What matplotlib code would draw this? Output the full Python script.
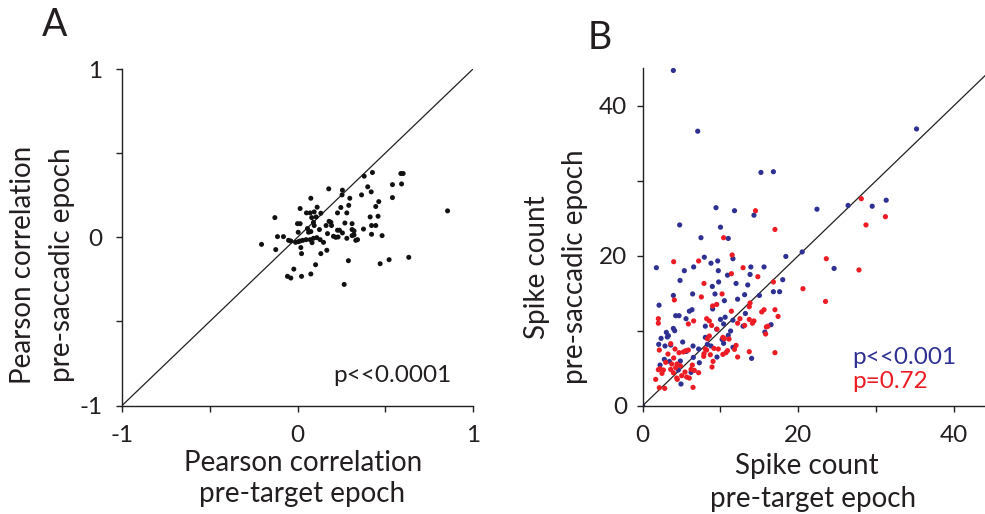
import matplotlib
matplotlib.use("Agg")
import matplotlib.pyplot as plt
import numpy as np

# ---------------- Panel A data: Pearson correlations ----------------
a_pre_target = [0.427, 0.38, 0.589, 0.602, 0.541, 0.593, 0.40, 0.42, 0.256, 0.178,
                0.365, 0.254, 0.076, 0.541, 0.298, 0.463, 0.292, 0.446, 0.247, 0.112,
                0.015, 0.855, 0.051, 0.072, 0.095, 0.133, 0.228, 0.281, -0.129, 0.081,
                0.106, 0.414, 0.459, 0.18, 0.19, 0.0, 0.015, 0.091, 0.27, 0.311,
                0.095, 0.163, 0.194, 0.422, 0.446, 0.057, 0.125, 0.228, 0.239, 0.311,
                0.322, 0.376, -0.114, -0.08, 0.004, 0.063, 0.076, 0.171, 0.256, 0.205,
                0.218, 0.231, 0.311, 0.322, 0.422, 0.482, -0.051, -0.038, -0.011, 0.004,
                0.015, 0.03, 0.049, 0.072, 0.091, 0.11, 0.129, 0.148, 0.281, 0.332,
                0.342, -0.205, 0.083, 0.019, -0.124, 0.167, 0.133, 0.023, 0.634, 0.522,
                0.471, 0.29, 0.103, -0.021, 0.076, 0.023, -0.057, -0.038, 0.266]
a_pre_saccadic = [0.385, 0.363, 0.379, 0.379, 0.313, 0.317, 0.30, 0.27, 0.28, 0.288,
                  0.252, 0.252, 0.232, 0.236, 0.232, 0.212, 0.19, 0.183, 0.177, 0.179,
                  0.171, 0.157, 0.145, 0.145, 0.151, 0.143, 0.145, 0.145, 0.117, 0.117,
                  0.121, 0.121, 0.125, 0.095, 0.089, 0.081, 0.081, 0.089, 0.085, 0.081,
                  0.07, 0.07, 0.07, 0.07, 0.07, 0.052, 0.046, 0.042, 0.042, 0.046,
                  0.038, 0.049, 0.004, 0.004, 0.03, 0.03, 0.034, 0.022, 0.026, 0.006,
                  0.0, 0.002, 0.01, 0.014, 0.018, 0.01, -0.018, -0.022, -0.03, -0.026,
                  -0.022, -0.018, -0.014, -0.014, -0.006, -0.002, -0.014, -0.03, -0.006, -0.018,
                  -0.014, -0.042, -0.032, -0.061, -0.073, -0.077, -0.097, -0.097, -0.119, -0.133,
                  -0.157, -0.139, -0.163, -0.189, -0.218, -0.232, -0.232, -0.242, -0.28]

# ---------------- Panel B data: spike counts ----------------
b_blue_target = [3.94, 7.07, 35.2, 15.2, 16.8, 31.3, 29.5, 26.4, 22.4, 9.42,
                 11.8, 14.3, 4.75, 10.0, 7.49, 11.0, 20.5, 18.4, 11.6, 7.92,
                 9.64, 8.78, 1.76, 6.55, 5.35, 13.9, 15.6, 24.6, 9.72, 10.9,
                 13.8, 18.0, 4.80, 9.76, 12.0, 8.95, 13.5, 16.8, 17.6, 6.42,
                 9.29, 13.1, 3.94, 15.0, 10.5, 12.2, 2.10, 13.2, 8.99, 4.24,
                 4.67, 6.00, 6.34, 5.57, 10.6, 10.0, 11.6, 12.9, 10.4, 16.5,
                 8.05, 9.51, 3.94, 4.11, 3.04, 11.3, 15.7, 3.30, 2.36, 3.17,
                 5.14, 2.06, 2.87, 3.60, 8.05, 11.0, 10.4, 8.31, 8.78, 10.2,
                 7.19, 6.47, 5.61, 11.6, 6.51, 4.84, 2.78, 3.43, 2.23, 7.28,
                 9.55, 14.0, 4.58, 6.21, 4.92, 0.0]
b_blue_saccadic = [44.7, 36.6, 36.9, 31.1, 31.2, 27.4, 26.6, 26.7, 26.2, 26.4,
                   26.0, 25.4, 24.1, 23.8, 22.4, 22.3, 20.5, 19.9, 19.6, 19.8,
                   19.3, 19.0, 18.4, 18.5, 18.0, 18.5, 18.5, 18.3, 18.0, 17.4,
                   17.5, 16.8, 16.7, 16.5, 16.3, 15.9, 16.1, 15.2, 15.2, 14.9,
                   14.9, 14.8, 14.7, 14.7, 14.0, 14.2, 13.4, 12.3, 12.9, 12.0,
                   12.0, 12.6, 12.8, 11.6, 11.8, 11.5, 11.4, 10.6, 10.9, 10.8,
                   10.6, 10.2, 10.3, 10.0, 9.78, 9.96, 9.82, 9.33, 8.98, 9.16,
                   8.49, 8.18, 7.96, 8.09, 9.11, 9.38, 8.31, 8.18, 7.96, 8.84,
                   7.56, 7.96, 7.24, 7.78, 6.44, 5.96, 6.18, 5.91, 5.42, 5.73,
                   6.49, 6.31, 4.76, 4.44, 2.89, 0.0]

b_red_target = [28.1, 14.5, 17.0, 28.7, 31.2, 10.4, 23.6, 27.8, 11.5, 3.98,
                7.19, 12.9, 14.8, 16.8, 11.4, 7.88, 20.6, 10.2, 7.54, 4.07,
                23.5, 9.51, 8.99, 13.8, 13.7, 15.6, 15.3, 17.0, 17.4, 11.4,
                2.01, 2.01, 6.55, 5.87, 8.22, 8.57, 12.5, 13.7, 14.3, 14.1,
                12.2, 13.1, 8.86, 15.9, 16.1, 9.55, 15.8, 10.3, 10.5, 11.1,
                8.57, 8.31, 3.60, 2.14, 4.15, 8.05, 8.22, 9.16, 9.72, 10.9,
                12.0, 11.8, 4.67, 5.22, 5.52, 5.87, 3.25, 7.88, 10.7, 13.7,
                17.0, 8.69, 10.3, 12.2, 3.98, 7.84, 9.04, 2.96, 2.23, 3.73,
                4.41, 4.24, 4.84, 6.38, 8.91, 2.01, 2.66, 3.60, 6.21, 3.94,
                5.44, 6.64, 7.19, 2.48, 5.01, 5.65, 5.99, 1.67, 4.37, 4.45,
                2.14, 2.83, 6.47]
b_red_saccadic = [27.6, 26.0, 23.5, 24.1, 25.2, 22.4, 19.6, 18.1, 20.1, 19.2,
                  19.3, 18.4, 17.2, 16.5, 17.6, 16.3, 15.6, 14.9, 14.5, 14.1,
                  13.9, 13.5, 13.3, 13.7, 13.2, 12.8, 12.5, 12.8, 11.9, 12.6,
                  11.6, 11.0, 11.3, 10.9, 11.6, 11.3, 11.6, 11.5, 11.3, 11.0,
                  11.0, 10.7, 10.7, 10.5, 10.6, 10.2, 9.56, 9.11, 8.93, 8.89,
                  9.29, 8.93, 8.27, 7.42, 7.56, 7.56, 7.42, 7.64, 7.56, 7.33,
                  8.04, 7.51, 7.07, 7.16, 7.33, 7.42, 6.89, 6.93, 7.07, 7.2,
                  7.07, 6.80, 6.84, 6.49, 6.36, 6.58, 5.91, 5.78, 4.93, 5.56,
                  5.56, 5.07, 5.33, 5.42, 5.16, 4.80, 4.76, 4.84, 4.84, 4.40,
                  4.49, 4.71, 4.40, 4.31, 4.00, 3.82, 3.69, 3.51, 3.69, 3.51,
                  2.40, 2.31, 2.44]

a_ticks = [-1, -0.5, 0, 0.5, 1]
a_ticklabels = ["-1", "", "0", "", "1"]
b_ticks = [0, 10, 20, 30, 40]
b_ticklabels = ["0", "", "20", "", "40"]

TXT = "#231f20"
BLUE = "#2e3192"
RED = "#ed1c24"
FONT = ["Lato", "DejaVu Sans"]
plt.rcParams["font.family"] = FONT

W, H = 985, 514
fig = plt.figure(figsize=(W / 100, H / 100), dpi=100)

def fx(px):
    return px / W

def fy(py):
    return 1 - py / H

axA = fig.add_axes([fx(122), fy(405.6), fx(473) - fx(122), fy(69) - fy(405.6)])
axB = fig.add_axes([fx(642.7), fy(405.7), fx(985) - fx(642.7), fy(68.2) - fy(405.7)])

for ax in (axA, axB):
    for s in ("top", "right"):
        ax.spines[s].set_visible(False)
    for s in ("left", "bottom"):
        ax.spines[s].set_linewidth(1.0)
        ax.spines[s].set_color(TXT)
    ax.tick_params(direction="out", length=4, width=1.0, color=TXT,
                   labelsize=17.5, labelcolor=TXT)
    ax.patch.set_alpha(0)

# Panel A
axA.plot([-1, 1], [-1, 1], color=TXT, lw=0.9, zorder=1)
axA.scatter(a_pre_target, a_pre_saccadic, s=13, color="#111111", edgecolors="none", zorder=2)
axA.set_xlim(-1, 1)
axA.set_ylim(-1, 1)
axA.set_xticks(a_ticks)
axA.set_xticklabels(a_ticklabels)
axA.set_yticks(a_ticks)
axA.set_yticklabels(a_ticklabels)
axA.tick_params(axis="x", pad=10)
axA.tick_params(axis="y", pad=10)
axA.text(0.88, -0.86, "p<<0.0001", ha="right", va="baseline", fontsize=17.5, color=TXT)

# Panel B
axB.plot([0, 44], [0, 44], color=TXT, lw=0.9, zorder=1)
axB.scatter(b_blue_target, b_blue_saccadic, s=14, color=BLUE, edgecolors="none", zorder=2)
axB.scatter(b_red_target, b_red_saccadic, s=14, color=RED, edgecolors="none", zorder=3)
axB.set_xlim(0, 44)
axB.set_ylim(0, 45)
axB.set_xticks(b_ticks)
axB.set_xticklabels(b_ticklabels)
axB.set_yticks(b_ticks)
axB.set_yticklabels(b_ticklabels)
axB.tick_params(axis="x", pad=10)
axB.tick_params(axis="y", pad=7)
axB.text(27.0, 5.6, "p<<0.001", ha="left", va="baseline", fontsize=17.5, color=BLUE)
axB.text(27.0, 2.3, "p=0.72", ha="left", va="baseline", fontsize=17.5, color=RED)

LBL = 20
# Axis labels (figure text, pixel-positioned)
fig.text(fx(303), fy(471), "Pearson correlation", ha="center", va="baseline", fontsize=LBL, color=TXT)
fig.text(fx(302), fy(502), "pre-target epoch", ha="center", va="baseline", fontsize=LBL, color=TXT)
fig.text(fx(23), fy(265), "Pearson correlation", ha="center", va="center", rotation=90, fontsize=LBL, color=TXT)
fig.text(fx(62), fy(265), "pre-saccadic epoch", ha="center", va="center", rotation=90, fontsize=LBL, color=TXT)

fig.text(fx(807), fy(474), "Spike count", ha="center", va="baseline", fontsize=LBL, color=TXT)
fig.text(fx(813), fy(507), "pre-target epoch", ha="center", va="baseline", fontsize=LBL, color=TXT)
fig.text(fx(537), fy(267), "Spike count", ha="center", va="center", rotation=90, fontsize=LBL, color=TXT)
fig.text(fx(575), fy(267), "pre-saccadic epoch", ha="center", va="center", rotation=90, fontsize=LBL, color=TXT)

fig.text(fx(55), fy(25), "A", ha="center", va="center", fontsize=27, color=TXT)
fig.text(fx(600), fy(38), "B", ha="center", va="center", fontsize=27, color=TXT)

fig.savefig("out.png", dpi=100)
